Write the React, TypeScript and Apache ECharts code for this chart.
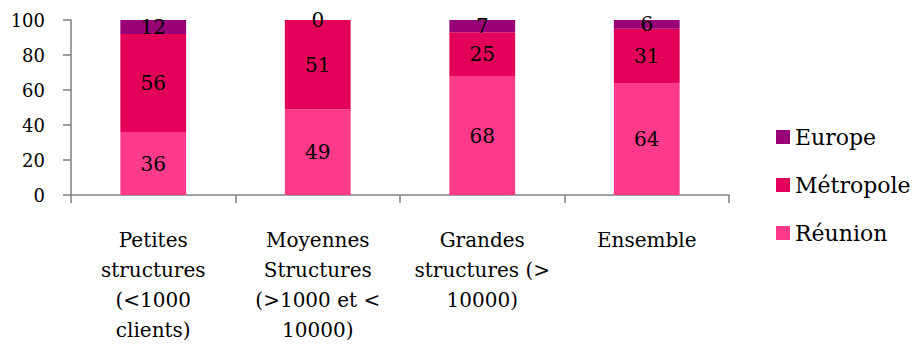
import React, { useEffect, useRef } from "react";
import * as echarts from "echarts";

// Répartition (%) par taille de structure
const categories = [
  "Petites\nstructures\n(<1000\nclients)",
  "Moyennes\nStructures\n(>1000 et <\n10000)",
  "Grandes\nstructures (>\n10000)",
  "Ensemble",
];
const reunion = [36, 49, 68, 64];
const metropole = [56, 51, 25, 31];
const europe = [12, 0, 7, 6];
const yTicks = { min: 0, max: 100, interval: 20 };

const FONT = "DejaVu Serif";
const AXIS_GREY = "#7f7f7f";

export default function App() {
  const ref = useRef<HTMLDivElement>(null);

  useEffect(() => {
    if (!ref.current) return;
    const chart = echarts.init(ref.current, undefined, { renderer: "svg" });

    const labelStyle = {
      show: true,
      position: "inside" as const,
      color: "#000",
      fontFamily: FONT,
      fontSize: 20,
    };

    const mkSeries = (name: string, data: number[], color: string) => ({
      name,
      type: "bar" as const,
      stack: "total",
      data,
      barWidth: "40%",
      clip: true,
      itemStyle: { color },
      label: labelStyle,
    });

    chart.setOption({
      animation: false,
      textStyle: { fontFamily: FONT },
      grid: { left: 71, top: 20, right: 185, bottom: 152, containLabel: false },
      legend: {
        orient: "vertical",
        left: 771,
        top: 121,
        icon: "rect",
        itemWidth: 14,
        itemHeight: 14,
        itemGap: 26,
        data: ["Europe", "Métropole", "Réunion"],
        textStyle: {
          fontFamily: FONT,
          fontSize: 22,
          lineHeight: 22,
          color: "#000",
        },
      },
      xAxis: {
        type: "category",
        data: categories,
        axisLine: { lineStyle: { color: AXIS_GREY, width: 1.5 } },
        axisTick: { show: true, length: 8, lineStyle: { color: AXIS_GREY, width: 1.5 } },
        axisLabel: {
          color: "#000",
          fontFamily: FONT,
          fontSize: 20,
          lineHeight: 30,
          margin: 30,
          interval: 0,
        },
      },
      yAxis: {
        type: "value",
        min: yTicks.min,
        max: yTicks.max,
        interval: yTicks.interval,
        splitLine: { show: false },
        axisLine: { show: true, lineStyle: { color: AXIS_GREY, width: 1.5 } },
        axisTick: { show: true, length: 8, lineStyle: { color: AXIS_GREY, width: 1.5 } },
        axisLabel: {
          color: "#000",
          fontFamily: FONT,
          fontSize: 18,
          margin: 26,
        },
      },
      series: [
        mkSeries("Réunion", reunion, "#FF3A8A"),
        mkSeries("Métropole", metropole, "#E30058"),
        mkSeries("Europe", europe, "#990077"),
      ],
    });

    return () => chart.dispose();
  }, []);

  return (
    <div
      ref={ref}
      style={{ position: "fixed", left: 0, top: 0, width: 914, height: 347, background: "#fff" }}
    />
  );
}
